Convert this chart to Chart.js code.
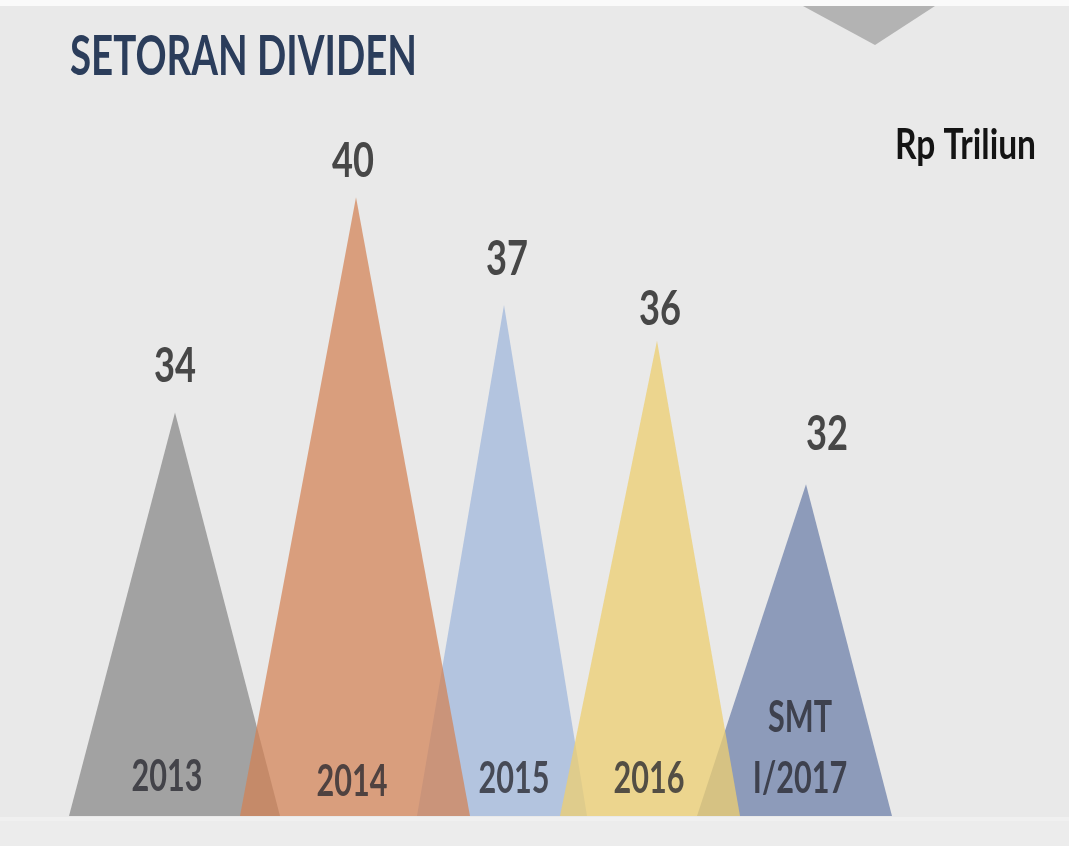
<!DOCTYPE html>
<html lang="id">
<head>
  <meta charset="UTF-8">
  <title>Setoran Dividen</title>
  <script src="https://cdn.jsdelivr.net/npm/chart.js"></script>
  <style>
    html, body { margin: 0; padding: 0; background: #e9e9e9; }
    #wrap { width: 1069px; height: 846px; position: relative; }
  </style>
</head>
<body>
  <div id="wrap"><canvas id="divChart"></canvas></div>
  <script>
    // data
    const chartTitle = 'SETORAN DIVIDEN';
    const unitLabel = 'Rp Triliun';
    const categories = ['2013', '2014', '2015', '2016', ['SMT', 'I/2017']];
    const dividends = [34, 40, 37, 36, 32];

    // layout (x axis runs 0..1069 across the canvas)
    const slotCenter = [175, 356, 504, 657, 806];
    const slotLeft = [106, 116, 87, 97, 109];
    const slotRight = [105, 114, 83, 83, 86];
    const labelDx = [0, -3, 3, 3, 21];
    const labelDy = [-10, 0, -10, 4, -14];
    const catDx = [-8, -4, 10, -8, -6];
    const catDy = [-2, 3, 0, 0, 0];
    const colors = ['#a2a2a2', 'rgba(210,129,83,0.72)', '#b3c4df', 'rgba(237,207,113,0.76)', '#8d9bba'];
    const drawOrder = [3, 1, 3, 1, 3];
    const Y_MIN = 22.75, Y_MAX = 45.5;

    const datasets = dividends.map((v, i) => ({
      label: Array.isArray(categories[i]) ? categories[i].join(' ') : categories[i],
      data: [
        { x: slotCenter[i] - slotLeft[i], y: Y_MIN },
        { x: slotCenter[i], y: v },
        { x: slotCenter[i] + slotRight[i], y: Y_MIN }
      ],
      backgroundColor: colors[i],
      borderWidth: 0,
      pointRadius: 0,
      tension: 0,
      fill: 'start',
      order: drawOrder[i]
    }));

    function drawScaled(ctx, text, x, y, font, sx, color, align) {
      ctx.save();
      ctx.font = font;
      ctx.fillStyle = color;
      ctx.textAlign = align || 'center';
      ctx.textBaseline = 'alphabetic';
      ctx.translate(x, y);
      ctx.scale(sx, 1);
      ctx.fillText(text, 0, 0);
      ctx.restore();
    }
    function fitScale(ctx, text, font, width) {
      ctx.save();
      ctx.font = font;
      const w = ctx.measureText(text).width;
      ctx.restore();
      return width / w;
    }

    const decor = {
      id: 'decor',
      beforeDraw(chart) {
        const ctx = chart.ctx;
        ctx.save();
        ctx.fillStyle = '#e9e9e9';
        ctx.fillRect(0, 0, chart.width, chart.height);
        ctx.fillStyle = '#fafafa';
        ctx.fillRect(0, 0, chart.width, 6);
        ctx.fillStyle = '#f0f0f0';
        ctx.fillRect(0, 817, chart.width, 4);
        ctx.fillStyle = '#ececec';
        ctx.fillRect(0, 821, chart.width, chart.height - 821);
        ctx.fillStyle = '#b3b3b3';
        ctx.beginPath();
        ctx.moveTo(803, 6);
        ctx.lineTo(935, 6);
        ctx.lineTo(875, 45);
        ctx.closePath();
        ctx.fill();
        ctx.restore();

        const tFont = 'bold 55px Lato';
        drawScaled(ctx, chartTitle, 70, 75, tFont, fitScale(ctx, chartTitle, tFont, 347), '#2b3d5b', 'left');
        const uFont = 'bold 42px Lato';
        drawScaled(ctx, unitLabel, 895, 159, uFont, fitScale(ctx, unitLabel, uFont, 141), '#141414', 'left');
      },
      afterDatasetsDraw(chart) {
        const ctx = chart.ctx;
        const xs = chart.scales.x, ys = chart.scales.y;
        const vFont = 'bold 47px Lato';
        const vsx = fitScale(ctx, '40', vFont, 42);
        const cFont = 'bold 43px Lato';
        const csx = fitScale(ctx, '2013', cFont, 71);
        dividends.forEach((v, i) => {
          const px = xs.getPixelForValue(slotCenter[i]);
          const py = ys.getPixelForValue(v);
          drawScaled(ctx, String(v), px + labelDx[i], py - 20 + labelDy[i], vFont, vsx, '#474747');
          const lines = Array.isArray(categories[i]) ? categories[i] : [categories[i]];
          lines.forEach((t, k) => {
            const by = 793 + catDy[i] - (lines.length - 1 - k) * 61;
            drawScaled(ctx, t, px + catDx[i], by, cFont, csx, 'rgba(40,40,48,0.78)');
          });
        });
      }
    };

    new Chart(document.getElementById('divChart'), {
      type: 'line',
      data: { datasets },
      options: {
        responsive: true,
        maintainAspectRatio: false,
        animation: false,
        layout: { padding: { top: 0, left: 0, right: 0, bottom: 30 } },
        scales: {
          x: { type: 'linear', min: 0, max: 1069, display: false },
          y: { min: Y_MIN, max: Y_MAX, display: false }
        },
        plugins: {
          legend: { display: false },
          tooltip: { enabled: false }
        }
      },
      plugins: [decor]
    });
  </script>
</body>
</html>
